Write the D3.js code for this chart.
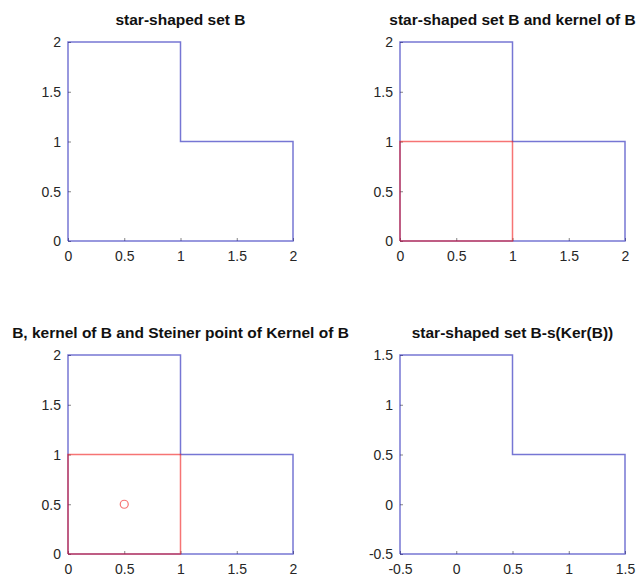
<!DOCTYPE html>
<html>
<head>
<meta charset="utf-8">
<script src="https://cdn.jsdelivr.net/npm/d3@7"></script>
<style>
  body { margin: 0; background: #fff; }
  svg { display: block; }
  .tick text { font-family: "Liberation Sans", Arial, sans-serif; font-size: 14px; fill: #262626; }
  .title { font-family: "Liberation Sans", Arial, sans-serif; font-size: 15.5px; font-weight: bold; fill: #111; }
</style>
</head>
<body>
<script>
// star-shaped set B
const shapeX = [0, 0, 1, 1, 2, 2, 0]
const shapeY = [0, 2, 2, 1, 1, 0, 0]
// kernel of B
const kernelX = [0, 0, 1, 1, 0]
const kernelY = [0, 1, 1, 0, 0]
// Steiner point of the kernel
const steinerX = [0.5]
const steinerY = [0.5]
// B - s(Ker(B))
const shiftedX = [-0.5, -0.5, 0.5, 0.5, 1.5, 1.5, -0.5]
const shiftedY = [-0.5, 1.5, 1.5, 0.5, 0.5, -0.5, -0.5]

const ticks02 = [0, 0.5, 1, 1.5, 2]
const ticksShift = [-0.5, 0, 0.5, 1, 1.5]

const titles = [
  'star-shaped set B',
  'star-shaped set B and kernel of B',
  'B, kernel of B and Steiner point of Kernel of B',
  'star-shaped set B-s(Ker(B))'
]

const blue = '#1a1ab8', red = '#f01818'

let svg = d3.select('body').append('svg')
  .attr('width', 636)
  .attr('height', 575)

let panels = [
  {left: 68, top: 42, dom: [0, 2], ticks: ticks02, title: titles[0], lines: [{x: shapeX, y: shapeY, c: blue}], pts: []},
  {left: 400, top: 42, dom: [0, 2], ticks: ticks02, title: titles[1], lines: [{x: shapeX, y: shapeY, c: blue}, {x: kernelX, y: kernelY, c: red}], pts: []},
  {left: 68, top: 355, dom: [0, 2], ticks: ticks02, title: titles[2], lines: [{x: shapeX, y: shapeY, c: blue}, {x: kernelX, y: kernelY, c: red}], pts: [{x: steinerX, y: steinerY, c: red}]},
  {left: 400, top: 355, dom: [-0.5, 1.5], ticks: ticksShift, title: titles[3], lines: [{x: shiftedX, y: shiftedY, c: blue}], pts: []}
]

const W = 225, H = 199

panels.forEach(p => {
  let g = svg.append('g').attr('transform', `translate(${p.left},${p.top})`)
  let x = d3.scaleLinear().domain(p.dom).range([0, W])
  let y = d3.scaleLinear().domain(p.dom).range([H, 0])

  let xa = g.append('g').attr('transform', `translate(0,${H})`)
    .call(d3.axisBottom(x).tickValues(p.ticks).tickFormat(d => String(d)).tickSizeInner(-3).tickSizeOuter(0).tickPadding(10))
  let ya = g.append('g')
    .call(d3.axisLeft(y).tickValues(p.ticks).tickFormat(d => String(d)).tickSizeInner(-3).tickSizeOuter(0).tickPadding(7))
  ;[xa, ya].forEach(a => {
    a.select('.domain').remove()
    a.selectAll('.tick line').attr('stroke', '#666').attr('stroke-width', 0.8)
    a.selectAll('.tick text').attr('font-family', null).attr('font-size', null)
  })
  xa.selectAll('.tick text').attr('dy', '0.71em')
  ya.selectAll('.tick text').attr('dy', '0.35em')

  let line = d3.line().x(d => x(d[0])).y(d => y(d[1]))
  p.lines.forEach(l => {
    g.append('path')
      .attr('d', line(d3.zip(l.x, l.y)))
      .attr('fill', 'none')
      .attr('stroke', l.c)
      .attr('stroke-opacity', 0.6)
      .attr('stroke-width', 1.5)
  })
  p.pts.forEach(pt => {
    g.selectAll(null).data(d3.zip(pt.x, pt.y)).enter().append('circle')
      .attr('cx', d => x(d[0]))
      .attr('cy', d => y(d[1]))
      .attr('r', 4)
      .attr('fill', 'none')
      .attr('stroke', pt.c)
      .attr('stroke-opacity', 0.6)
      .attr('stroke-width', 1.2)
  })

  svg.append('text')
    .attr('class', 'title')
    .attr('x', p.left + W / 2)
    .attr('y', p.top - 17)
    .attr('text-anchor', 'middle')
    .text(p.title)
})
</script>
</body>
</html>
